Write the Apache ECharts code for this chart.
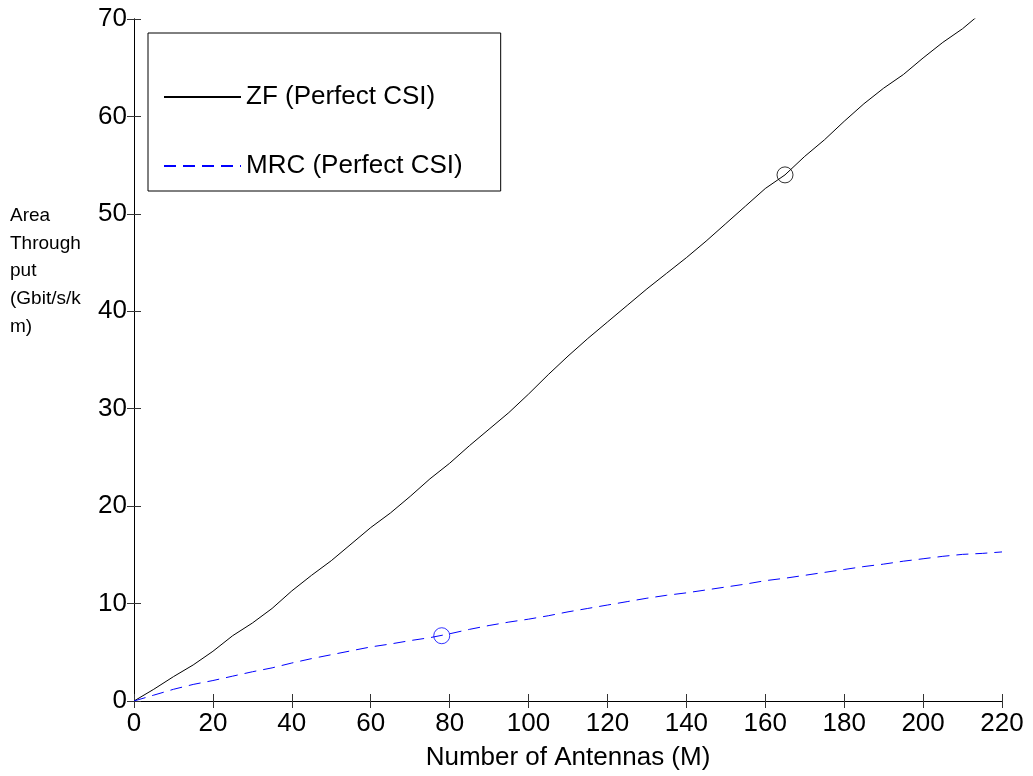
<!DOCTYPE html>
<html>
<head>
<meta charset="utf-8">
<title>Area Throughput vs Number of Antennas</title>
<script src="https://cdn.jsdelivr.net/npm/echarts@6/dist/echarts.min.js"></script>
<style>
  html, body { margin: 0; padding: 0; background: #ffffff; }
  #chart { width: 1033px; height: 776px; }
</style>
</head>
<body>
<div id="chart"></div>
<script>
// Number of base-station antennas M
const antennas = [0, 5, 10, 15, 20, 25, 30, 35, 40, 45, 50, 55, 60, 65, 70, 75, 80, 85, 90, 95,
  100, 105, 110, 115, 120, 125, 130, 135, 140, 145, 150, 155, 160, 165, 170, 175, 180, 185, 190,
  195, 200, 205, 210, 215, 220];

// Area throughput (Gbit/s/km) with zero-forcing, perfect CSI
const zfThroughput = [0, 1.2, 2.5, 3.7, 5.1, 6.7, 8.0, 9.5, 11.3, 12.9, 14.4, 16.1, 17.8, 19.3,
  21.0, 22.8, 24.4, 26.2, 27.9, 29.6, 31.5, 33.5, 35.4, 37.2, 38.9, 40.6, 42.3, 43.9, 45.5, 47.2,
  49.0, 50.8, 52.6, 54.0, 55.9, 57.6, 59.5, 61.3, 62.9, 64.3, 66.0, 67.6, 69.0, 70.7, 72.3];

// Area throughput (Gbit/s/km) with maximum-ratio combining, perfect CSI
const mrcThroughput = [0, 0.6, 1.2, 1.7, 2.1, 2.55, 3.0, 3.4, 3.9, 4.35, 4.75, 5.15, 5.55, 5.85,
  6.2, 6.5, 6.9, 7.35, 7.75, 8.1, 8.4, 8.75, 9.15, 9.5, 9.85, 10.2, 10.55, 10.85, 11.1, 11.4,
  11.7, 12.0, 12.35, 12.6, 12.9, 13.2, 13.5, 13.8, 14.05, 14.35, 14.6, 14.85, 15.05, 15.15, 15.3];

// Highlighted operating points [M, throughput]
const zfMarker = [[165, 54]];
const mrcMarker = [[78, 6.7]];

// Axis ticks
const xTicks = { min: 0, max: 220, step: 20 };
const yTicks = { min: 0, max: 70, step: 10 };

const seriesNames = ['ZF (Perfect CSI)', 'MRC (Perfect CSI)'];
const yAxisTitle = 'Area\nThrough\nput\n(Gbit/s/k\nm)';
const xAxisTitle = 'Number of Antennas (M)';

const FONT = '"Liberation Sans", Arial, Helvetica, sans-serif';

function pairs(xs, ys) {
  return xs.map((x, i) => [x, ys[i]]);
}

const chart = echarts.init(document.getElementById('chart'), null, { renderer: 'canvas' });

const tickStyle = { show: true, inside: true, length: 7, lineStyle: { color: '#333', width: 1 } };
const axisLine = { show: true, lineStyle: { color: '#000', width: 1 } };

chart.setOption({
  animation: false,
  backgroundColor: '#ffffff',
  title: {
    text: yAxisTitle,
    left: 10,
    top: 202,
    padding: 0,
    textStyle: {
      fontFamily: FONT,
      fontSize: 19,
      fontWeight: 'normal',
      lineHeight: 27.7,
      color: '#000'
    }
  },
  grid: { left: 134, right: 31, top: 19, bottom: 74, containLabel: false },
  legend: {
    data: seriesNames,
    orient: 'vertical',
    left: 148,
    top: 33,
    padding: [49, 38, 10, 15],
    itemGap: 39,
    itemWidth: 77,
    itemHeight: 14,
    itemTextGap: 7,
    backgroundColor: '#ffffff',
    borderColor: '#000',
    borderWidth: 1,
    borderRadius: 0,
    // line samples only, no symbol in the key
    itemStyle: { opacity: 0 },
    textStyle: { fontFamily: FONT, fontSize: 26, lineHeight: 30, color: '#000' }
  },
  xAxis: [
    {
      type: 'value',
      min: xTicks.min, max: xTicks.max, interval: xTicks.step,
      position: 'bottom',
      name: xAxisTitle,
      nameLocation: 'middle',
      nameGap: 44,
      nameTextStyle: { fontFamily: FONT, fontSize: 26, color: '#000' },
      axisLine: axisLine,
      axisTick: tickStyle,
      axisLabel: { fontFamily: FONT, fontSize: 26, color: '#000', margin: 10 },
      splitLine: { show: false }
    },
    {
      type: 'value',
      min: xTicks.min, max: xTicks.max, interval: xTicks.step,
      position: 'top',
      axisLine: axisLine,
      axisTick: tickStyle,
      axisLabel: { show: false },
      splitLine: { show: false }
    }
  ],
  yAxis: [
    {
      type: 'value',
      min: yTicks.min, max: yTicks.max, interval: yTicks.step,
      position: 'left',
      axisLine: axisLine,
      axisTick: tickStyle,
      axisLabel: { fontFamily: FONT, fontSize: 26, color: '#000', margin: 7 },
      splitLine: { show: false }
    },
    {
      type: 'value',
      min: yTicks.min, max: yTicks.max, interval: yTicks.step,
      position: 'right',
      axisLine: axisLine,
      axisTick: tickStyle,
      axisLabel: { show: false },
      splitLine: { show: false }
    }
  ],
  series: [
    {
      name: seriesNames[0],
      type: 'line',
      data: pairs(antennas, zfThroughput),
      symbol: 'none',
      clip: true,
      lineStyle: { color: '#000000', width: 1, type: 'solid' },
      itemStyle: { color: '#000000' },
      z: 3
    },
    {
      name: seriesNames[1],
      type: 'line',
      data: pairs(antennas, mrcThroughput),
      symbol: 'none',
      clip: true,
      lineStyle: { color: '#0000ff', width: 1, type: [12, 7] },
      itemStyle: { color: '#0000ff' },
      z: 3
    },
    {
      name: 'ZF point',
      type: 'scatter',
      data: zfMarker,
      symbol: 'circle',
      symbolSize: 16,
      itemStyle: { color: 'rgba(0,0,0,0)', borderColor: '#000000', borderWidth: 1 },
      z: 4
    },
    {
      name: 'MRC point',
      type: 'scatter',
      data: mrcMarker,
      symbol: 'circle',
      symbolSize: 16,
      itemStyle: { color: 'rgba(0,0,0,0)', borderColor: '#0000ff', borderWidth: 1 },
      z: 4
    }
  ]
});
</script>
</body>
</html>
